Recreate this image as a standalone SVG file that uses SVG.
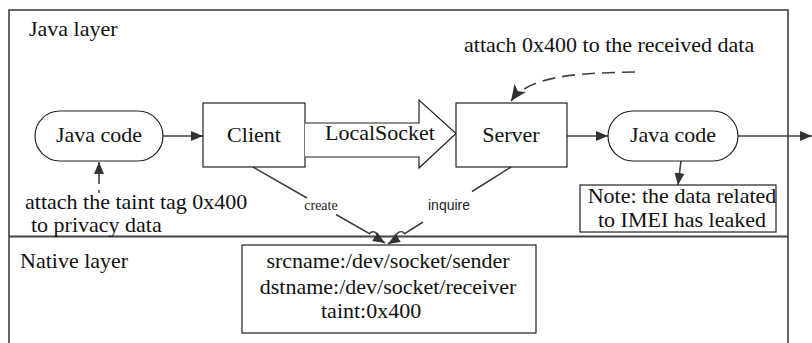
<svg xmlns="http://www.w3.org/2000/svg" width="812" height="343" viewBox="0 0 812 343">
<style>
.t{font-family:"Liberation Serif","Times New Roman",serif;font-size:22px;fill:#111}
.s{font-family:"Liberation Serif","Times New Roman",serif;font-size:14px;fill:#222}
.ss{font-family:"Liberation Sans",Arial,sans-serif;font-size:14px;fill:#222}
.box{fill:#fff;stroke:#222;stroke-width:1.2}
.ln{fill:none;stroke:#404040;stroke-width:1.6}
.frame{fill:none;stroke:#333;stroke-width:1.5}
</style>
<defs>
<marker id="ah" viewBox="0 0 12 10" refX="12" refY="5" markerWidth="12" markerHeight="10" markerUnits="userSpaceOnUse" orient="auto">
<path d="M0,0 L12,5 L0,10 Z" fill="#333"/>
</marker>
<marker id="ah2" viewBox="0 0 16 14" refX="16" refY="7" markerWidth="16" markerHeight="14" markerUnits="userSpaceOnUse" orient="auto">
<path d="M0,0 L16,7 L0,14 L4,7 Z" fill="#333"/>
</marker>
</defs>
<g id="frame">
<path class="frame" d="M9,345 V10 H788 V345"/>
<line x1="9" y1="236.5" x2="788" y2="236.5" stroke="#444" stroke-width="2"/>
<text class="t" x="29" y="36">Java layer</text>
<text class="t" x="20" y="268">Native layer</text>
</g>
<g id="connectors">
<line class="ln" x1="163" y1="136" x2="203" y2="136" marker-end="url(#ah)"/>
<line class="ln" x1="567" y1="136" x2="608" y2="136" marker-end="url(#ah)"/>
<line class="ln" x1="738" y1="136" x2="812" y2="136" marker-end="url(#ah)"/>
<line class="ln" x1="681" y1="161" x2="678" y2="185" marker-end="url(#ah)"/>
<line class="ln" x1="99" y1="193" x2="99" y2="190"/>
<line class="ln" x1="99" y1="184" x2="99" y2="162" marker-end="url(#ah)"/>
<path class="ln" d="M635,72 C585,73 530,74 511,101" stroke-dasharray="13 7" stroke-width="2" marker-end="url(#ah2)"/>
<path class="ln" d="M253,167 L307,198"/>
<path class="ln" d="M336,214.5 L369.5,233.8 A4.5,4.5 0 0 1 377.3,238.2 L385,243" marker-end="url(#ah)"/>
<path class="ln" d="M511,167 L472,191.5"/>
<path class="ln" d="M423,222 L404.6,233.6 A4.5,4.5 0 0 0 397,238.4 L388,244" marker-end="url(#ah)"/>
<text class="s" x="321" y="210" text-anchor="middle">create</text>
<text class="ss" x="449" y="210" text-anchor="middle">inquire</text>
</g>
<g id="java1">
<rect class="box" x="35" y="111" width="128" height="50" rx="25" ry="25"/>
<text class="t" x="99" y="142" text-anchor="middle">Java code</text>
</g>
<g id="client">
<rect class="box" x="203" y="103" width="102" height="64"/>
<text class="t" x="254" y="142" text-anchor="middle">Client</text>
</g>
<g id="localsocket">
<path class="box" d="M305,123 H419 V100 L456,133.5 L419,168 V157 H305"/>
<text class="t" x="380" y="140" text-anchor="middle">LocalSocket</text>
</g>
<g id="server">
<rect class="box" x="456" y="103" width="111" height="64"/>
<text class="t" x="511" y="142" text-anchor="middle">Server</text>
</g>
<g id="java2">
<rect class="box" x="608" y="111" width="130" height="50" rx="25" ry="25"/>
<text class="t" x="673" y="142" text-anchor="middle">Java code</text>
</g>
<g id="note">
<rect class="box" x="580" y="185" width="196" height="47"/>
<text class="t" x="682" y="203" text-anchor="middle">Note: the data related</text>
<text class="t" x="682" y="227" text-anchor="middle">to IMEI has leaked</text>
</g>
<g id="socketinfo">
<rect class="box" x="242" y="245" width="294" height="88"/>
<text class="t" x="388" y="268" text-anchor="middle">srcname:/dev/socket/sender</text>
<text class="t" x="388" y="294" text-anchor="middle">dstname:/dev/socket/receiver</text>
<text class="t" x="321" y="318">taint:0x400</text>
</g>
<g id="labels">
<text class="t" x="464" y="52">attach 0x400 to the received data</text>
<text class="t" x="25" y="209">attach the taint tag 0x400</text>
<text class="t" x="31" y="232">to privacy data</text>
</g>
</svg>
